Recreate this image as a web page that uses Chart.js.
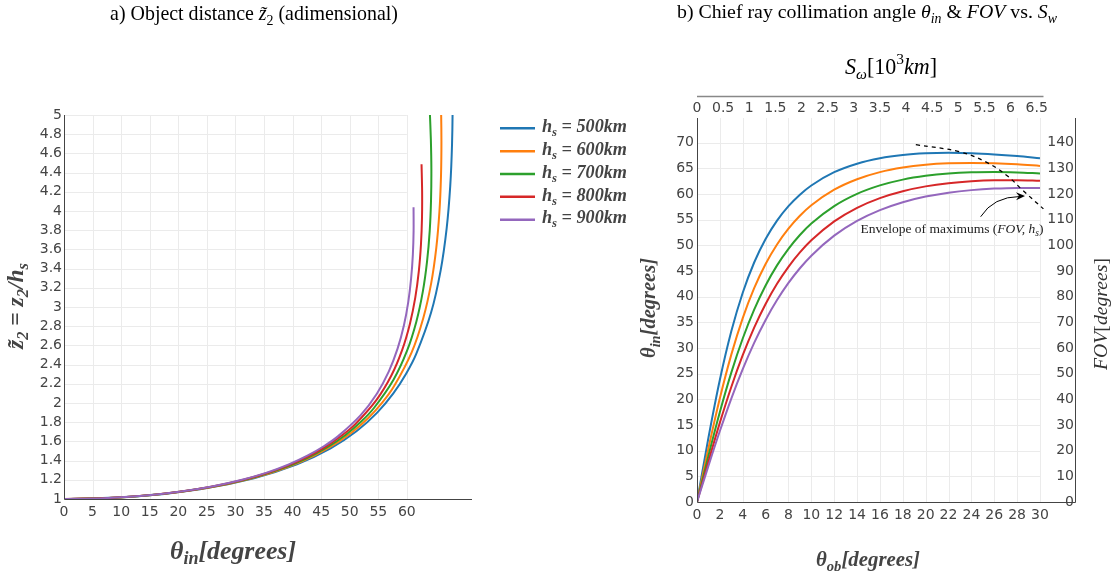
<!DOCTYPE html>
<html>
<head>
<meta charset="utf-8">
<script src="https://cdn.jsdelivr.net/npm/chart.js@4.4.1/dist/chart.umd.min.js"></script>
<style>
html, body { margin: 0; padding: 0; background: #fff; }
#wrap { position: relative; width: 1115px; height: 577px; overflow: hidden; }
#left-box { position: absolute; left: 0; top: 0; width: 640px; height: 577px; }
#right-box { position: absolute; left: 640px; top: 0; width: 475px; height: 577px; }
</style>
</head>
<body>
<div id="wrap">
  <div id="left-box"><canvas id="left-chart" width="640" height="577"></canvas></div>
  <div id="right-box"><canvas id="right-chart" width="475" height="577"></canvas></div>
</div>
<script>
// orbit heights (km) and one curve per height
const heights = ['500', '600', '700', '800', '900'];
const colors = ['#1f77b4', '#ff7f0e', '#2ca02c', '#d62728', '#9467bd'];

// theta_ob [deg] samples shared by every curve
const thetaOb = [0, 1, 2, 3, 4, 5, 6, 7, 8, 9, 10, 12, 14, 16, 18, 20, 22, 24, 26, 28, 30];

// theta_in [deg] read off panel b)
const thetaIn500 = [0, 12.51, 23.81, 33.24, 40.77, 46.65, 51.23, 54.81, 57.63, 59.87, 61.66, 64.24, 65.90, 66.96, 67.59, 67.91, 68.01, 67.93, 67.71, 67.39, 66.98];
const thetaIn600 = [0, 10.48, 20.21, 28.71, 35.83, 41.65, 46.37, 50.17, 53.25, 55.76, 57.80, 60.84, 62.88, 64.26, 65.15, 65.69, 65.97, 66.05, 65.97, 65.77, 65.47];
const thetaIn700 = [0, 9.01, 17.53, 25.20, 31.85, 37.48, 42.18, 46.09, 49.32, 52.01, 54.24, 57.64, 60.02, 61.67, 62.80, 63.54, 64.00, 64.23, 64.29, 64.20, 64.00];
const thetaIn800 = [0, 7.90, 15.46, 22.41, 28.59, 33.97, 38.58, 42.50, 45.81, 48.61, 50.97, 54.66, 57.31, 59.20, 60.54, 61.48, 62.10, 62.47, 62.65, 62.67, 62.57];
const thetaIn900 = [0, 7.04, 13.82, 20.15, 25.89, 31.00, 35.47, 39.33, 42.67, 45.53, 47.98, 51.88, 54.75, 56.85, 58.39, 59.49, 60.25, 60.75, 61.05, 61.18, 61.17];

// z2 / hs read off panel a), same samples
const z500 = [1, 1.026, 1.102, 1.217, 1.361, 1.527, 1.708, 1.900, 2.100, 2.305, 2.514, 2.942, 3.377, 3.817, 4.259, 4.703, 5.148, 5.593, 6.037, 6.480, 6.922];
const z600 = [1, 1.019, 1.073, 1.157, 1.265, 1.392, 1.534, 1.685, 1.844, 2.009, 2.179, 2.528, 2.886, 3.249, 3.616, 3.985, 4.355, 4.726, 5.096, 5.466, 5.836];
const z700 = [1, 1.014, 1.055, 1.119, 1.203, 1.304, 1.417, 1.540, 1.670, 1.807, 1.948, 2.240, 2.542, 2.850, 3.162, 3.477, 3.793, 4.111, 4.428, 4.746, 5.063];
const z800 = [1, 1.011, 1.043, 1.093, 1.161, 1.242, 1.335, 1.437, 1.546, 1.661, 1.780, 2.030, 2.289, 2.556, 2.826, 3.100, 3.376, 3.653, 3.931, 4.209, 4.486];
const z900 = [1, 1.009, 1.034, 1.076, 1.131, 1.198, 1.275, 1.361, 1.454, 1.552, 1.655, 1.871, 2.097, 2.330, 2.569, 2.810, 3.054, 3.300, 3.546, 3.793, 4.040];

// dashed envelope of maximums
const envelopeOb = [19.14, 23.0, 25.3, 27.1, 28.5, 30.3];
const envelopeIn = [69.6, 68.2, 66.2, 63.6, 60.7, 57.1];

// tick values
const leftXTicks = [0, 5, 10, 15, 20, 25, 30, 35, 40, 45, 50, 55, 60];
const leftYTicks = [1, 1.2, 1.4, 1.6, 1.8, 2, 2.2, 2.4, 2.6, 2.8, 3, 3.2, 3.4, 3.6, 3.8, 4, 4.2, 4.4, 4.6, 4.8, 5];
const rightXTicks = [0, 2, 4, 6, 8, 10, 12, 14, 16, 18, 20, 22, 24, 26, 28, 30];
const topXTicks = [0, 0.5, 1, 1.5, 2, 2.5, 3, 3.5, 4, 4.5, 5, 5.5, 6, 6.5];
const rightYTicks = [0, 5, 10, 15, 20, 25, 30, 35, 40, 45, 50, 55, 60, 65, 70];
const fovTicks = [0, 10, 20, 30, 40, 50, 60, 70, 80, 90, 100, 110, 120, 130, 140];

const thetaInSeries = [thetaIn500, thetaIn600, thetaIn700, thetaIn800, thetaIn900];
const zSeries = [z500, z600, z700, z800, z900];

const gridColor = '#ebebeb';
const axisColor = '#444';
const tickFont = { family: 'DejaVu Sans', size: 14 };
const serif = '"Liberation Serif"';

// draw a run of text parts: [text, style, 'sub'|'sup']
function richText(ctx, parts, x, y, opts) {
    const base = opts.size || 16;
    const family = opts.family || serif;
    function build(size) {
        return parts.map(function (p) {
            const shift = p[2] || '';
            const s = shift ? size * 0.7 : size;
            const font = (p[1] || '') + ' ' + s.toFixed(2) + 'px ' + family;
            ctx.font = font;
            return {
                text: p[0], font: font, w: ctx.measureText(p[0]).width,
                dy: shift === 'sub' ? size * 0.3 : (shift === 'sup' ? -size * 0.38 : 0)
            };
        });
    }
    let items = build(base);
    let total = items.reduce(function (a, it) { return a + it.w; }, 0);
    if (opts.width) {
        items = build(base * opts.width / total);
        total = items.reduce(function (a, it) { return a + it.w; }, 0);
    }
    ctx.save();
    ctx.translate(x, y);
    if (opts.angle) ctx.rotate(opts.angle);
    ctx.fillStyle = opts.color || '#000';
    ctx.textBaseline = 'middle';
    ctx.textAlign = 'left';
    let cx = opts.align === 'left' ? 0 : -total / 2;
    items.forEach(function (it) {
        ctx.font = it.font;
        ctx.fillText(it.text, cx, it.dy);
        cx += it.w;
    });
    ctx.restore();
}

function setTicks(values) {
    return function (scale) {
        scale.ticks = values.map(function (v) { return { value: v }; });
    };
}

function plainLabel(v) { return String(v); }

// ---------- a) object distance ----------
const leftDatasets = heights.map(function (h, i) {
    return {
        label: 'h_s = ' + h + 'km',
        data: thetaInSeries[i].map(function (t, j) { return { x: t, y: zSeries[i][j] }; }),
        borderColor: colors[i],
        borderWidth: 2,
        pointRadius: 0,
        tension: 0.3,
        order: heights.length - i
    };
});

const leftDecor = {
    id: 'leftDecor',
    beforeDatasetsDraw: function (chart) {
        const ctx = chart.ctx, area = chart.chartArea, x = chart.scales.x, y = chart.scales.y;
        const xEnd = x.getPixelForValue(60);
        ctx.save();
        ctx.strokeStyle = gridColor;
        ctx.lineWidth = 1;
        ctx.beginPath();
        leftXTicks.forEach(function (v) {
            const px = Math.round(x.getPixelForValue(v)) + 0.5;
            ctx.moveTo(px, area.top); ctx.lineTo(px, area.bottom);
        });
        leftYTicks.forEach(function (v) {
            const py = Math.round(y.getPixelForValue(v)) + 0.5;
            ctx.moveTo(area.left, py); ctx.lineTo(xEnd, py);
        });
        ctx.stroke();
        ctx.restore();
    },
    afterDraw: function (chart) {
        const ctx = chart.ctx, area = chart.chartArea;
        ctx.save();
        ctx.strokeStyle = axisColor;
        ctx.lineWidth = 1;
        ctx.beginPath();
        ctx.moveTo(area.left + 0.5, area.top);
        ctx.lineTo(area.left + 0.5, area.bottom + 0.5);
        ctx.lineTo(area.right, area.bottom + 0.5);
        ctx.stroke();
        ctx.restore();

        richText(ctx, [['a) Object distance ', ''], ['z̃', 'italic'], ['2', '', 'sub'], [' (adimensional)', '']],
            254, 15, { width: 288 });
        richText(ctx, [['z̃', 'bold italic'], ['2', 'bold italic', 'sub'], [' = z', 'bold italic'], ['2', 'bold italic', 'sub'],
            ['/h', 'bold italic'], ['s', 'bold italic', 'sub']],
            17, 306, { width: 86, angle: -Math.PI / 2, color: '#444' });
        richText(ctx, [['θ', 'bold italic'], ['in', 'bold italic', 'sub'], ['[degrees]', 'bold italic']],
            233, 552, { width: 126, color: '#444' });

        // legend
        heights.forEach(function (h, i) {
            const ly = 128.3 + i * 22.85;
            ctx.save();
            ctx.strokeStyle = colors[i];
            ctx.lineWidth = 2.5;
            ctx.beginPath();
            ctx.moveTo(500, ly); ctx.lineTo(535, ly);
            ctx.stroke();
            ctx.restore();
            richText(ctx, [['h', 'bold italic'], ['s', 'bold italic', 'sub'], [' = ' + h + 'km', 'bold italic']],
                542, ly - 1, { width: 85, align: 'left', color: '#444' });
        });
    }
};

new Chart(document.getElementById('left-chart'), {
    type: 'line',
    data: { datasets: leftDatasets },
    options: {
        responsive: false,
        animation: false,
        layout: { padding: { left: 0, right: 168, top: 115, bottom: 0 } },
        plugins: { legend: { display: false }, tooltip: { enabled: false } },
        scales: {
            x: {
                type: 'linear', min: 0, max: 71.4,
                afterBuildTicks: setTicks(leftXTicks),
                afterFit: function (s) { s.height = 78; },
                grid: { display: false, drawTicks: false },
                border: { display: false },
                ticks: { font: tickFont, color: '#444', padding: 5, maxRotation: 0, autoSkip: false, callback: plainLabel }
            },
            y: {
                type: 'linear', min: 1, max: 5,
                afterBuildTicks: setTicks(leftYTicks),
                afterFit: function (s) { s.width = 64; },
                grid: { display: false, drawTicks: false },
                border: { display: false },
                ticks: { font: tickFont, color: '#444', padding: 2, autoSkip: false, callback: plainLabel }
            }
        }
    },
    plugins: [leftDecor]
});

// ---------- b) chief ray collimation angle ----------
const rightDatasets = heights.map(function (h, i) {
    return {
        label: 'h_s = ' + h + 'km',
        data: thetaOb.map(function (t, j) { return { x: t, y: thetaInSeries[i][j] }; }),
        borderColor: colors[i],
        borderWidth: 2,
        pointRadius: 0,
        cubicInterpolationMode: 'monotone',
        xAxisID: 'x',
        yAxisID: 'y',
        order: heights.length - i
    };
});
rightDatasets.push({
    label: 'envelope',
    data: envelopeOb.map(function (t, j) { return { x: t, y: envelopeIn[j] }; }),
    borderColor: '#000',
    borderWidth: 1.3,
    borderDash: [4, 4],
    pointRadius: 0,
    tension: 0.4,
    xAxisID: 'x',
    yAxisID: 'y',
    order: 0
});

const rightDecor = {
    id: 'rightDecor',
    beforeDatasetsDraw: function (chart) {
        const ctx = chart.ctx, area = chart.chartArea, x = chart.scales.x, y = chart.scales.y;
        const xEnd = x.getPixelForValue(30);
        ctx.save();
        ctx.strokeStyle = gridColor;
        ctx.lineWidth = 1;
        ctx.beginPath();
        rightXTicks.forEach(function (v) {
            const px = Math.round(x.getPixelForValue(v)) + 0.5;
            ctx.moveTo(px, area.top); ctx.lineTo(px, area.bottom);
        });
        rightYTicks.forEach(function (v) {
            const py = Math.round(y.getPixelForValue(v)) + 0.5;
            ctx.moveTo(area.left, py); ctx.lineTo(xEnd, py);
        });
        ctx.stroke();
        ctx.restore();
    },
    afterDatasetsDraw: function (chart) {
        const ctx = chart.ctx, x = chart.scales.x, y = chart.scales.y;
        // curved arrow pointing at the envelope
        const x0 = x.getPixelForValue(24.81), y0 = y.getPixelForValue(55.57);
        const cxp = x.getPixelForValue(25.92), cyp = y.getPixelForValue(59.47);
        const x1 = x.getPixelForValue(28.69), y1 = y.getPixelForValue(59.61);
        ctx.save();
        ctx.strokeStyle = '#000';
        ctx.fillStyle = '#000';
        ctx.lineWidth = 1;
        ctx.beginPath();
        ctx.moveTo(x0, y0);
        ctx.quadraticCurveTo(cxp, cyp, x1 - 5, y1 + 0.5);
        ctx.stroke();
        const ang = Math.atan2(y1 - cyp, x1 - cxp);
        ctx.beginPath();
        ctx.moveTo(x1, y1);
        ctx.lineTo(x1 - 9 * Math.cos(ang) + 4 * Math.sin(ang), y1 - 9 * Math.sin(ang) - 4 * Math.cos(ang));
        ctx.lineTo(x1 - 6 * Math.cos(ang), y1 - 6 * Math.sin(ang));
        ctx.lineTo(x1 - 9 * Math.cos(ang) - 4 * Math.sin(ang), y1 - 9 * Math.sin(ang) + 4 * Math.cos(ang));
        ctx.closePath();
        ctx.fill();
        ctx.restore();
    },
    afterDraw: function (chart) {
        const ctx = chart.ctx, area = chart.chartArea, x2 = chart.scales.x2, y2 = chart.scales.y2;
        ctx.save();
        ctx.strokeStyle = axisColor;
        ctx.lineWidth = 1;
        ctx.beginPath();
        ctx.moveTo(area.left + 0.5, area.top);
        ctx.lineTo(area.left + 0.5, area.bottom + 0.5);
        ctx.lineTo(area.right - 0.5, area.bottom + 0.5);
        ctx.lineTo(area.right - 0.5, area.top);
        ctx.stroke();
        // top axis line sits above its labels
        ctx.strokeStyle = '#888';
        ctx.lineWidth = 1.5;
        ctx.beginPath();
        ctx.moveTo(area.left, x2.top + 0.5);
        ctx.lineTo(x2.getPixelForValue(6.63), x2.top + 0.5);
        ctx.stroke();
        // FOV labels, drawn inside the right axis line
        ctx.fillStyle = '#444';
        ctx.font = '14px "DejaVu Sans"';
        ctx.textAlign = 'right';
        ctx.textBaseline = 'middle';
        fovTicks.forEach(function (v) {
            ctx.fillText(String(v), area.right - 2, y2.getPixelForValue(v));
        });
        ctx.restore();

        richText(ctx, [['b) Chief ray collimation angle ', ''], ['θ', 'italic'], ['in', 'italic', 'sub'], [' & ', ''],
            ['FOV', 'italic'], [' vs. ', ''], ['S', 'italic'], ['w', 'italic', 'sub']],
            227, 13, { width: 380 });
        richText(ctx, [['S', 'italic'], ['ω', 'italic', 'sub'], ['[10', ''], ['3', '', 'sup'], ['km', 'italic'], [']', '']],
            251, 68, { width: 92 });
        richText(ctx, [['θ', 'bold italic'], ['in', 'bold italic', 'sub'], ['[degrees]', 'bold italic']],
            10, 308, { width: 100, angle: -Math.PI / 2, color: '#444' });
        richText(ctx, [['θ', 'bold italic'], ['ob', 'bold italic', 'sub'], ['[degrees]', 'bold italic']],
            228, 561, { width: 104, color: '#444' });
        richText(ctx, [['FOV', 'italic'], ['[', ''], ['degrees', 'italic'], [']', '']],
            462, 314, { width: 112, angle: -Math.PI / 2, color: '#333' });
        richText(ctx, [['Envelope of maximums (', ''], ['FOV, h', 'italic'], ['s', 'italic', 'sub'], [')', '']],
            312, 229, { width: 183, color: '#222' });
    }
};

new Chart(document.getElementById('right-chart'), {
    type: 'line',
    data: { datasets: rightDatasets },
    options: {
        responsive: false,
        animation: false,
        layout: { padding: { left: 0, right: 0, top: 96, bottom: 0 } },
        plugins: { legend: { display: false }, tooltip: { enabled: false } },
        scales: {
            x: {
                type: 'linear', position: 'bottom', min: 0, max: 33.15,
                afterBuildTicks: setTicks(rightXTicks),
                afterFit: function (s) { s.height = 75; },
                grid: { display: false, drawTicks: false },
                border: { display: false },
                ticks: { font: tickFont, color: '#444', padding: 5, maxRotation: 0, autoSkip: false, callback: plainLabel }
            },
            x2: {
                type: 'linear', position: 'top', min: 0, max: 7.252,
                afterBuildTicks: setTicks(topXTicks),
                afterFit: function (s) { s.height = 22; },
                grid: { display: false, drawTicks: false },
                border: { display: false },
                ticks: { font: tickFont, color: '#444', padding: 1, maxRotation: 0, autoSkip: false, callback: plainLabel }
            },
            y: {
                type: 'linear', position: 'left', min: 0, max: 74.8,
                afterBuildTicks: setTicks(rightYTicks),
                afterFit: function (s) { s.width = 57; },
                grid: { display: false, drawTicks: false },
                border: { display: false },
                ticks: { font: tickFont, color: '#444', padding: 3, autoSkip: false, callback: plainLabel }
            },
            y2: {
                type: 'linear', position: 'right', min: 0, max: 149.6,
                afterBuildTicks: setTicks(fovTicks),
                afterFit: function (s) { s.width = 39; },
                grid: { display: false, drawTicks: false },
                border: { display: false },
                ticks: { display: false }
            }
        }
    },
    plugins: [rightDecor]
});
</script>
</body>
</html>
